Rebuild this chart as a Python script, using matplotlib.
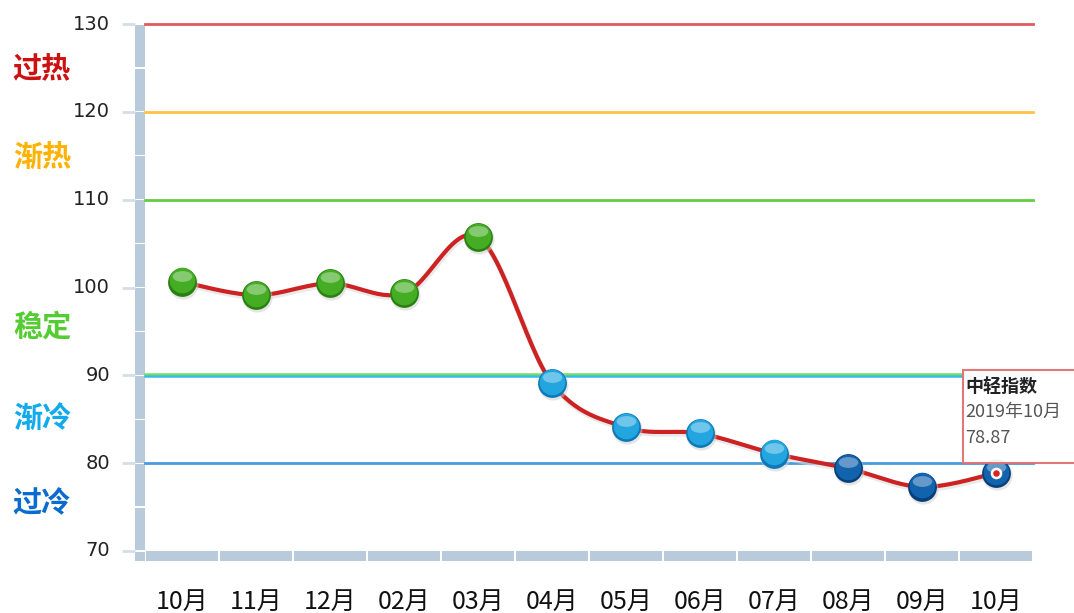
import numpy as np
import matplotlib
matplotlib.use('Agg')
import matplotlib.pyplot as plt
from matplotlib.patches import Rectangle
from matplotlib.path import Path
from matplotlib.transforms import blended_transform_factory, offset_copy, Affine2D

plt.rcParams['font.family'] = ['Noto Sans CJK SC', 'DejaVu Sans']

months = ['10月', '11月', '12月', '02月', '03月', '04月', '05月', '06月', '07月', '08月', '09月', '10月']
values = [100.65, 99.13, 100.47, 99.33, 105.74, 89.11, 84.07, 83.38, 81.10, 79.40, 77.30, 78.87]

levels = [130, 120, 110, 80]
level_colors = ['#e05a5a', '#ffc445', '#66cc44', '#4a9ade']

zone_names = ['过热', '渐热', '稳定', '渐冷', '过冷']
zone_y = [125, 114.9, 95.6, 85.1, 75.4]
zone_colors = ['#cc1111', '#ffb300', '#55cc33', '#11aaee', '#0a6ccc']

tip_title = '中轻指数'
tip_date = '2019年10月'
tip_value = '78.87'

W, H = 1074, 613
fig = plt.figure(figsize=(W / 100, H / 100), dpi=100)
x0, x1, ytop, ybot = 145, 1033, 24, 551
ax = fig.add_axes([x0 / W, 1 - ybot / H, (x1 - x0) / W, (ybot - ytop) / H])
ax.set_xlim(-0.5, len(months) - 0.5)
ax.set_ylim(70, 130)
ax.axis('off')

px_y = 60 / (ybot - ytop)   # data units per pixel (y)
px_x = len(months) / (x1 - x0)
bar_color = '#b9cadb'

# left axis bar with gaps every 5 units
tr_left = blended_transform_factory(ax.transAxes, ax.transData)
for lo in np.arange(70, 130, 5):
    ax.add_patch(Rectangle((-10 / (x1 - x0), lo + 0.6 * px_y), 10 / (x1 - x0), 5 - 1.2 * px_y,
                           transform=tr_left, color=bar_color, clip_on=False, lw=0))
# corner
ax.add_patch(Rectangle((-10 / (x1 - x0), 70 - 10 * px_y), 10 / (x1 - x0), 10 * px_y - 0.6 * px_y,
                       transform=tr_left, color=bar_color, clip_on=False, lw=0))
# bottom bar segments per category
for i in range(len(months)):
    ax.add_patch(Rectangle((i - 0.5 + 1.2 * px_x, 70 - 10 * px_y), 1 - 2.4 * px_x, 10 * px_y,
                           color=bar_color, clip_on=False, lw=0))

# y ticks and labels
for v in range(70, 131, 10):
    ax.plot([-23 / (x1 - x0), -10 / (x1 - x0)], [v, v], transform=tr_left,
            color='#d5dee8', lw=2, clip_on=False, solid_capstyle='butt')
    ax.text(-35 / (x1 - x0), v, str(v), transform=tr_left, ha='right', va='center',
            fontsize=14, color='#222222', family=['DejaVu Sans'])

# horizontal level lines
for lv, c in zip(levels, level_colors):
    ax.plot([0, 1], [lv, lv], transform=tr_left, color=c, lw=2, clip_on=False)
ax.plot([0, 1], [90, 90], color='#77dd55', lw=1.8, clip_on=False,
        transform=offset_copy(tr_left, fig=fig, y=1.2, units='dots'))
ax.plot([0, 1], [90, 90], color='#33bbee', lw=1.8, clip_on=False,
        transform=offset_copy(tr_left, fig=fig, y=-1, units='dots'))

# zone labels
for name, zy, c in zip(zone_names, zone_y, zone_colors):
    ax.text(-103 / (x1 - x0), zy, name, transform=tr_left, ha='center', va='center',
            fontsize=21, fontweight='bold', color=c)

# x labels
for i, m in enumerate(months):
    ax.text(i, 70 - 51 * px_y, m, ha='center', va='center', fontsize=18, color='#111111',
            clip_on=False)


# smooth line through the points (Catmull-Rom rendering)
def catmull(xs, ys, n=30):
    xs = np.asarray(xs, float)
    ys = np.asarray(ys, float)
    px = np.concatenate([[xs[0]], xs, [xs[-1]]])
    py = np.concatenate([[ys[0]], ys, [ys[-1]]])
    outx, outy = [], []
    for k in range(1, len(px) - 2):
        t = np.linspace(0, 1, n)
        p0, p1, p2, p3 = py[k - 1], py[k], py[k + 1], py[k + 2]
        q0, q1, q2, q3 = px[k - 1], px[k], px[k + 1], px[k + 2]
        s = 0.5
        m1y, m2y = s * (p2 - p0), s * (p3 - p1)
        m1x, m2x = s * (q2 - q0), s * (q3 - q1)
        h00 = 2 * t ** 3 - 3 * t ** 2 + 1
        h10 = t ** 3 - 2 * t ** 2 + t
        h01 = -2 * t ** 3 + 3 * t ** 2
        h11 = t ** 3 - t ** 2
        outx.append(h00 * q1 + h10 * m1x + h01 * q2 + h11 * m2x)
        outy.append(h00 * p1 + h10 * m1y + h01 * p2 + h11 * m2y)
    return np.concatenate(outx), np.concatenate(outy)


xs = np.arange(len(values))
sx, sy = catmull(xs, values)
ax.plot(sx, sy, color='#dddddd', lw=4, alpha=0.6, zorder=3,
        transform=offset_copy(ax.transData, fig=fig, x=1, y=-2, units='dots'))
ax.plot(sx, sy, color='#cc2222', lw=3, zorder=4, solid_capstyle='round')

# glossy markers
gloss = Path.unit_circle().transformed(Affine2D().scale(1.0, 0.55))
for i, v in enumerate(values):
    if v >= 90:
        dark, main = '#2a7f12', '#45ad24'
    elif v >= 80:
        dark, main = '#0b78b8', '#23a6e0'
    else:
        dark, main = '#073f7a', '#1263ad'
    ax.scatter([i], [v], s=470, color='#cccccc', alpha=0.5, zorder=5, lw=0,
               transform=offset_copy(ax.transData, fig=fig, x=1, y=-2, units='dots'))
    ax.scatter([i], [v], s=430, color=dark, zorder=6, lw=0)
    ax.scatter([i], [v], s=340, color=main, zorder=7, lw=0,
               transform=offset_copy(ax.transData, fig=fig, y=1.5, units='dots'))
    ax.scatter([i], [v], s=200, color='white', alpha=0.35, zorder=8, lw=0, marker=gloss,
               transform=offset_copy(ax.transData, fig=fig, y=6, units='dots'))

# hover state on last point
ax.scatter([len(values) - 1], [values[-1]], s=70, color='white', zorder=9, lw=0)
ax.scatter([len(values) - 1], [values[-1]], s=22, color='#dd2222', zorder=10, lw=0)

# tooltip
fig.add_artist(Rectangle((963 / W, 1 - 463 / H), 130 / W, 93 / H, transform=fig.transFigure,
                         facecolor='white', edgecolor='#e07070', lw=1.5, alpha=0.95))
fig.text(965 / W, 1 - 387 / H, tip_title, fontsize=13, fontweight='bold', color='#222222', va='center')
fig.text(965 / W, 1 - 412 / H, tip_date, fontsize=13, color='#555555', va='center')
fig.text(965 / W, 1 - 438 / H, tip_value, fontsize=13, color='#555555', va='center')

fig.savefig('out.png', dpi=100)
